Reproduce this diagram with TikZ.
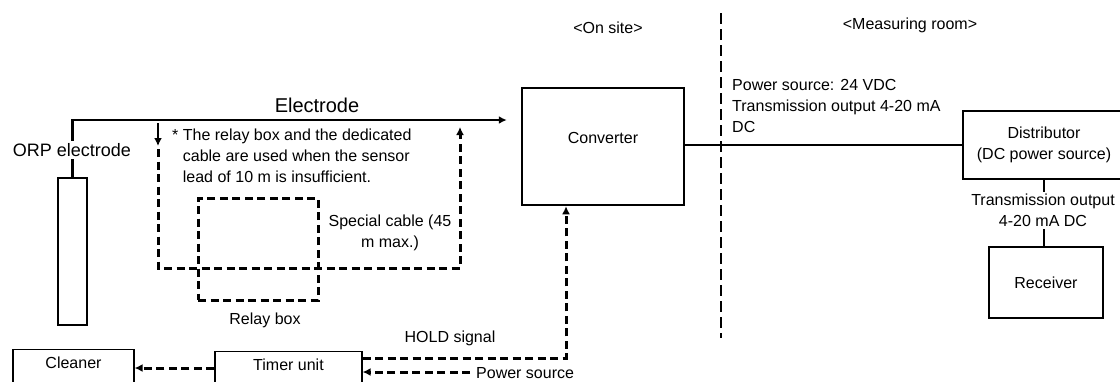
\documentclass[tikz,border=0pt]{standalone}
\usepackage{fontspec}
\setmainfont{Liberation Sans}
\usetikzlibrary{arrows.meta}

\begin{document}
\begin{tikzpicture}[x=1pt,y=-1pt,>={Latex[length=8pt,width=8pt]},font=\fontsize{16}{21}\selectfont]
    \tikzstyle{box}=[draw,line width=2.5pt,inner sep=0pt]
    \tikzstyle{thin box}=[draw,line width=1.2pt,anchor=north,inner ysep=7.5pt,text height=11.5pt,text depth=26pt]
    \tikzstyle{wire}=[draw,line width=2.5pt]
    \tikzstyle{dline}=[draw,line width=3pt,dash pattern=on 8pt off 4.5pt]
    \tikzstyle{annot}=[align=center,inner sep=2pt]
    \useasboundingbox (0,0) rectangle (1120,381);

    % Draw the units
    \node[box,minimum width=29pt,minimum height=147pt] (tube) at (72.5,251.5) {};
    \node[box,minimum width=162pt,minimum height=117pt,label={[yshift=8.5pt]center:Converter}] (conv) at (603,146.5) {};
    \node[box,minimum width=162pt,minimum height=68pt,align=center] (dist) at (1044,145) {Distributor\\(DC power source)};
    \node[box,minimum width=114pt,minimum height=71pt] (recv) at (1046,282.5) {Receiver};
    \node[thin box,minimum width=121pt] (clean) at (73.5,349) {Cleaner};
    \node[thin box,minimum width=147pt] (timer) at (288.5,351) {Timer unit};
    \node[dline,minimum width=120pt,minimum height=102pt] (relay) at (258,249) {};

    % Electrode lead and the converter output
    \draw[wire,->,shorten >=14pt] (tube.north) |- (conv.west |- 0,120);
    \draw[wire] (conv.east |- dist.west) -- (dist.west);
    \draw[wire] (dist.south) -- (dist.south |- recv.north);

    % Special cable through the relay box
    \coordinate (tap in) at (158,123);
    \coordinate (tap out) at (460,127);
    \draw[wire,->] (tap in) -- ++(0,23);
    \draw[dline,->] ([yshift=-26pt]tap in) |- (tap out |- 0,268) -- (tap out);

    % Timer unit wiring
    \coordinate (pwr) at (470,372);
    \draw[dline,->] (timer.east |- 0,358) -| ([xshift=-37pt]conv.south);
    \draw[dline,->] (pwr) -- (timer.east |- pwr);
    \draw[dline,->] (timer.west |- 0,368) -- (clean.east |- 0,368);

    % On site / measuring room border
    \draw[line width=2.5pt,dash pattern=on 11pt off 5pt] (721,13) -- (721,338);

    % Annotate the parts
    \node[fill=white,font=\fontsize{18}{22}\selectfont,inner sep=2pt] (orp) at (72,150) {ORP electrode};
    \node[font=\fontsize{20}{24}\selectfont] (elec) at (317,105) {Electrode};
    \node[align=left,anchor=west,inner sep=0pt] (note) at (172,156) {* The relay box and the dedicated\\\hspace*{10.7pt}cable are used when the sensor\\\hspace*{10.7pt}lead of 10 m is insufficient.};
    \node[annot] (cable) at (390,232.5) {Special cable (45\\m max.)};
    \node (relay lbl) at (265,320) {Relay box};
    \node (hold) at (450,338) {HOLD signal};
    \node[anchor=west,inner sep=0pt] (pwr lbl) at (476,373.5) {Power source};
    \node (site) at (608,28) {<On site>};
    \node (room) at (910,25) {<Measuring room>};
    \node[align=left,anchor=west,inner sep=0pt] (spec) at (732,106) {Power source: 24 VDC\\Transmission output 4-20 mA\\DC};
    \node[annot,fill=white] (tx out) at (1043,210.5) {Transmission output\\4-20 mA DC};
\end{tikzpicture}
\end{document}
